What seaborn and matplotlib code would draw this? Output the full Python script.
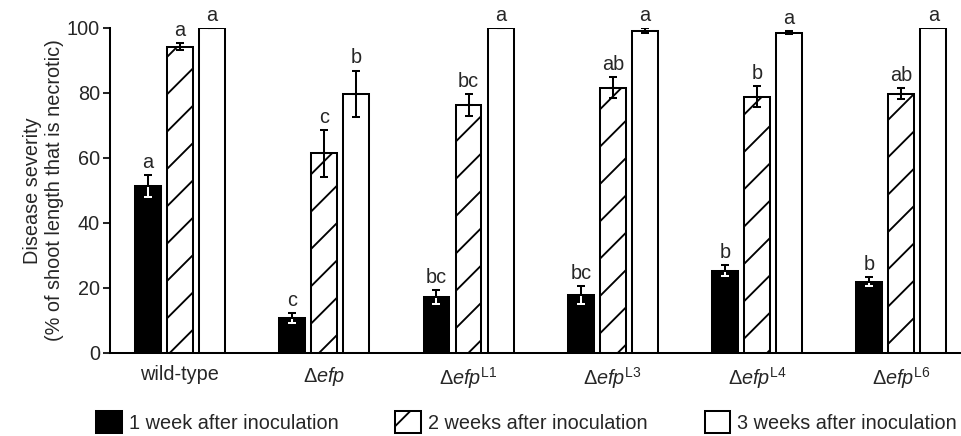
import matplotlib
matplotlib.use('Agg')
import matplotlib.pyplot as plt
import seaborn as sns
import pandas as pd

# categories
strains = ['wild-type', 'efp', 'efp L1', 'efp L3', 'efp L4', 'efp L6']
tick_labels = ['wild-type',
               r'$\Delta\mathit{efp}$',
               r'$\Delta\mathit{efp}^{\mathrm{L1}}$',
               r'$\Delta\mathit{efp}^{\mathrm{L3}}$',
               r'$\Delta\mathit{efp}^{\mathrm{L4}}$',
               r'$\Delta\mathit{efp}^{\mathrm{L6}}$']
times = ['1 week after inoculation', '2 weeks after inoculation', '3 weeks after inoculation']

# mean disease severity (%)
week1 = [51.4, 10.7, 17.3, 17.8, 25.3, 21.9]
week2 = [94.3, 61.5, 76.3, 81.6, 78.9, 79.7]
week3 = [100.0, 79.7, 100.0, 99.2, 98.6, 100.0]

# standard errors
err1 = [3.4, 1.5, 2.2, 2.8, 1.7, 1.4]
err2 = [1.2, 7.2, 3.4, 3.2, 3.2, 1.7]
err3 = [0.0, 7.2, 0.0, 0.7, 0.4, 0.0]

# significance letters
letters1 = ['a', 'c', 'bc', 'bc', 'b', 'b']
letters2 = ['a', 'c', 'bc', 'ab', 'b', 'ab']
letters3 = ['a', 'b', 'a', 'a', 'a', 'a']

sns.set_style('ticks')
plt.rcParams['font.family'] = ['Liberation Sans', 'DejaVu Sans']
plt.rcParams['mathtext.fontset'] = 'custom'
plt.rcParams['mathtext.rm'] = 'Liberation Sans'
plt.rcParams['mathtext.it'] = 'Liberation Sans:italic'
plt.rcParams['mathtext.bf'] = 'Liberation Sans:bold'
plt.rcParams['hatch.linewidth'] = 1.2
plt.rcParams['hatch.color'] = 'black'

df = pd.DataFrame({
    'strain': strains * 3,
    'time': [times[0]] * 6 + [times[1]] * 6 + [times[2]] * 6,
    'severity': week1 + week2 + week3,
})

dpi = 112
fig = plt.figure(figsize=(962 / dpi, 436 / dpi), dpi=dpi)
ax = fig.add_axes([0.1143, 0.1904, 0.8857, 0.7454])

sns.barplot(data=df, x='strain', y='severity', hue='time', order=strains,
            hue_order=times, palette=['black', 'white', 'white'],
            width=0.666, gap=0.19, edgecolor='black', linewidth=1.3,
            errorbar=None, legend=False, ax=ax)

bar_sets = list(ax.containers)
for bar in bar_sets[1]:
    bar.set_hatch('/')

errs = [err1, err2, err3]
vals = [week1, week2, week3]
letters = [letters1, letters2, letters3]
for i, cont in enumerate(bar_sets):
    xs = [b.get_x() + b.get_width() / 2 for b in cont]
    low_color = 'white' if i == 0 else 'black'
    zeros = [0] * len(xs)
    ax.errorbar(xs, vals[i], yerr=[errs[i], zeros], fmt='none', ecolor=low_color,
                elinewidth=1.3, capsize=2.8, capthick=1.3, zorder=4)
    ax.errorbar(xs, vals[i], yerr=[zeros, errs[i]], fmt='none', ecolor='black',
                elinewidth=1.3, capsize=2.8, capthick=1.3, zorder=4)
    for x, v, e, t in zip(xs, vals[i], errs[i], letters[i]):
        ax.annotate(t, (x, v + e), xytext=(0, 2), textcoords='offset points',
                    ha='center', va='bottom', fontsize=12.8, annotation_clip=False)

ax.set_ylim(0, 100)
ax.set_xlim(-0.485, 5.42)
ax.set_yticks([0, 20, 40, 60, 80, 100])
ax.set_xticks(range(6))
ax.set_xticklabels(tick_labels)
ax.tick_params(axis='y', length=4.5, width=1.3, pad=2, labelsize=12.8)
ax.tick_params(axis='x', length=0, pad=8, labelsize=12.8)
ax.set_xlabel('')
ax.set_ylabel('Disease severity\n(% of shoot length that is necrotic)',
              fontsize=12.8, labelpad=2)
for side in ['top', 'right']:
    ax.spines[side].set_visible(False)
for side in ['left', 'bottom']:
    ax.spines[side].set_linewidth(1.3)
    ax.spines[side].set_color('black')

fig.legend(bar_sets, times, loc='center left', bbox_to_anchor=(0.0998, 0.032),
           ncol=3, frameon=False, fontsize=12.8, handlelength=1.3, handleheight=1.3,
           handletextpad=0.35, columnspacing=2.85, borderpad=0, borderaxespad=0)

fig.savefig('out.png', dpi=dpi)
